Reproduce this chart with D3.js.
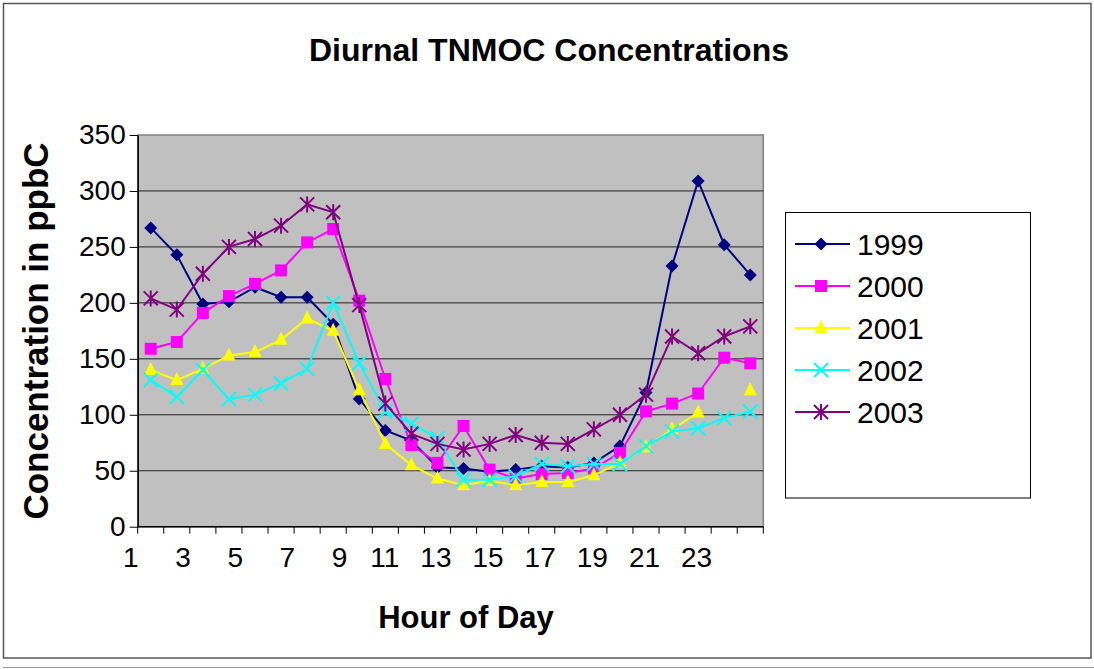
<!DOCTYPE html>
<html>
<head>
<meta charset="utf-8">
<script src="https://cdn.jsdelivr.net/npm/d3@7"></script>
<style>
    html, body { margin: 0; padding: 0; background: #fff; }
    svg { display: block; font-family: "Liberation Sans", Arial, sans-serif; }
</style>
</head>
<body>
<svg id="chart" width="1094" height="669"></svg>
<script>
// --- 1. DATA ---
var hours = d3.range(1, 25);
var hourLabels = [1, 3, 5, 7, 9, 11, 13, 15, 17, 19, 21, 23];
var yTicks = [0, 50, 100, 150, 200, 250, 300, 350];

var years = ["1999", "2000", "2001", "2002", "2003"];
var tnmoc1999 = [267, 243, 199, 201, 214, 205, 205, 181, 114, 86, 77, 53, 52, 49, 51, 54, 53, 57, 72, 120, 233, 309, 252, 225];
var tnmoc2000 = [159, 165, 191, 206, 217, 229, 254, 266, 202, 132, 73, 57, 90, 51, 43, 47, 48, 52, 66, 103, 110, 119, 151, 146];
var tnmoc2001 = [140, 131, 141, 153, 156, 167, 186, 175, 122, 74, 55, 43, 37, 41, 37, 40, 40, 46, 57, 71, 87, 102, null, 122];
var tnmoc2002 = [131, 116, 140, 114, 118, 128, 141, 200, 146, 103, 92, 79, 42, 42, 45, 56, 54, 56, 56, 72, 85, 88, 97, 103];
var tnmoc2003 = [204, 194, 226, 250, 257, 269, 288, 281, 198, 110, 83, 74, 69, 74, 82, 75, 74, 87, 100, 118, 170, 155, 170, 179];

var seriesValues = [tnmoc1999, tnmoc2000, tnmoc2001, tnmoc2002, tnmoc2003];
var seriesColors = ["#000080", "#ff00ff", "#ffff00", "#00ffff", "#800080"];
var seriesMarkers = ["diamond", "square", "triangle", "cross", "star"];

// --- 2. LAYOUT ---
var svg = d3.select("#chart");
var plot = { left: 137.7, right: 763.3, top: 135, bottom: 526.7 };

var x = d3.scaleBand()
    .domain(hours)
    .range([plot.left, plot.right])
    .padding(0);

var y = d3.scaleLinear()
    .domain([0, 350])
    .range([plot.bottom, plot.top]);

function cx(h) { return x(h) + x.bandwidth() / 2; }

// outer chart frame
svg.append("rect")
    .attr("x", 3.5).attr("y", 3.5)
    .attr("width", 1087.5).attr("height", 654.5)
    .attr("fill", "#fff")
    .attr("stroke", "#555")
    .attr("stroke-width", 1.5);

svg.append("line")
    .attr("x1", 3).attr("x2", 1094)
    .attr("y1", 667.5).attr("y2", 667.5)
    .attr("stroke", "#999");

// plot background
svg.append("rect")
    .attr("x", plot.left).attr("y", plot.top)
    .attr("width", plot.right - plot.left)
    .attr("height", plot.bottom - plot.top)
    .attr("fill", "#c0c0c0")
    .attr("stroke", "#808080")
    .attr("stroke-width", 1.5);

// gridlines
svg.append("g")
    .selectAll("line")
    .data(yTicks.filter(function(t) { return t > 0 && t < 350; }))
    .enter()
    .append("line")
    .attr("x1", plot.left).attr("x2", plot.right)
    .attr("y1", function(d) { return y(d); })
    .attr("y2", function(d) { return y(d); })
    .attr("stroke", "#222")
    .attr("stroke-width", 1);

// --- 3. AXES ---
var yAxis = d3.axisLeft(y)
    .tickValues(yTicks)
    .tickSize(8)
    .tickPadding(4)
    .tickSizeOuter(0);

var gy = svg.append("g")
    .attr("transform", "translate(" + plot.left + ",0)")
    .call(yAxis);
gy.select(".domain").attr("stroke", "#000").attr("stroke-width", 1.5);
gy.selectAll(".tick line").attr("stroke", "#000");
gy.selectAll(".tick text")
    .attr("font-size", 28)
    .attr("fill", "#000")
    .attr("font-family", "Liberation Sans, Arial, sans-serif");

// x axis: ticks at category boundaries
var boundaries = d3.range(0, 25);
var gx = svg.append("g");
gx.append("line")
    .attr("x1", plot.left).attr("x2", plot.right)
    .attr("y1", plot.bottom).attr("y2", plot.bottom)
    .attr("stroke", "#000")
    .attr("stroke-width", 1.5);
gx.selectAll("line.tick")
    .data(boundaries)
    .enter()
    .append("line")
    .attr("class", "tick")
    .attr("x1", function(i) { return plot.left + i * x.bandwidth(); })
    .attr("x2", function(i) { return plot.left + i * x.bandwidth(); })
    .attr("y1", plot.bottom)
    .attr("y2", plot.bottom + 7)
    .attr("stroke", "#000");

// labels sit right-aligned at the left edge of their category
gx.selectAll("text")
    .data(hourLabels)
    .enter()
    .append("text")
    .attr("x", function(h) { return x(h) + 1; })
    .attr("y", 567)
    .attr("text-anchor", "end")
    .attr("font-size", 28)
    .text(function(h) { return h; });

// --- 4. TITLES ---
svg.append("text")
    .attr("x", 549).attr("y", 61)
    .attr("text-anchor", "middle")
    .attr("font-size", 32)
    .attr("font-weight", "bold")
    .text("Diurnal TNMOC Concentrations");

svg.append("text")
    .attr("x", 466).attr("y", 628)
    .attr("text-anchor", "middle")
    .attr("font-size", 31)
    .attr("font-weight", "bold")
    .text("Hour of Day");

svg.append("text")
    .attr("transform", "translate(48,331) rotate(-90)")
    .attr("text-anchor", "middle")
    .attr("font-size", 35)
    .attr("font-weight", "bold")
    .text("Concentration in ppbC");

// --- 5. MARKERS ---
function drawMarker(g, type, color) {
    if (type === "diamond") {
        g.append("path").attr("d", "M0,-6.5L6.5,0L0,6.5L-6.5,0Z").attr("fill", color);
    } else if (type === "square") {
        g.append("rect").attr("x", -6).attr("y", -6).attr("width", 12).attr("height", 12).attr("fill", color);
    } else if (type === "triangle") {
        g.append("path").attr("d", "M0,-8L6.5,5L-6.5,5Z").attr("fill", color);
    } else if (type === "cross") {
        g.append("path").attr("d", "M-7,-7L7,7M-7,7L7,-7")
            .attr("stroke", color).attr("stroke-width", 2).attr("fill", "none");
    } else if (type === "star") {
        g.append("path").attr("d", "M-7,-7L7,7M-7,7L7,-7M0,-8L0,8")
            .attr("stroke", color).attr("stroke-width", 2).attr("fill", "none");
    }
}

// --- 6. SERIES ---
var line = d3.line()
    .defined(function(d) { return d.v != null; })
    .x(function(d) { return cx(d.h); })
    .y(function(d) { return y(d.v); });

years.forEach(function(yr, i) {
    var pts = hours.map(function(h, j) { return { h: h, v: seriesValues[i][j] }; });
    var g = svg.append("g");

    g.append("path")
        .datum(pts)
        .attr("d", line)
        .attr("fill", "none")
        .attr("stroke", seriesColors[i])
        .attr("stroke-width", 2);

    pts.filter(function(d) { return d.v != null; }).forEach(function(d) {
        var m = g.append("g").attr("transform", "translate(" + cx(d.h) + "," + y(d.v) + ")");
        drawMarker(m, seriesMarkers[i], seriesColors[i]);
    });
});

// --- 7. LEGEND ---
var legend = svg.append("g");
legend.append("rect")
    .attr("x", 785.5).attr("y", 212.5)
    .attr("width", 245).attr("height", 285.5)
    .attr("fill", "#fff")
    .attr("stroke", "#000")
    .attr("stroke-width", 1);

years.forEach(function(yr, i) {
    var ly = 244 + i * 42;
    legend.append("line")
        .attr("x1", 795).attr("x2", 850)
        .attr("y1", ly).attr("y2", ly)
        .attr("stroke", seriesColors[i])
        .attr("stroke-width", 2);
    var m = legend.append("g").attr("transform", "translate(821," + ly + ")");
    drawMarker(m, seriesMarkers[i], seriesColors[i]);
    legend.append("text")
        .attr("x", 857).attr("y", ly)
        .attr("dominant-baseline", "central")
        .attr("font-size", 30)
        .text(yr);
});
</script>
</body>
</html>
